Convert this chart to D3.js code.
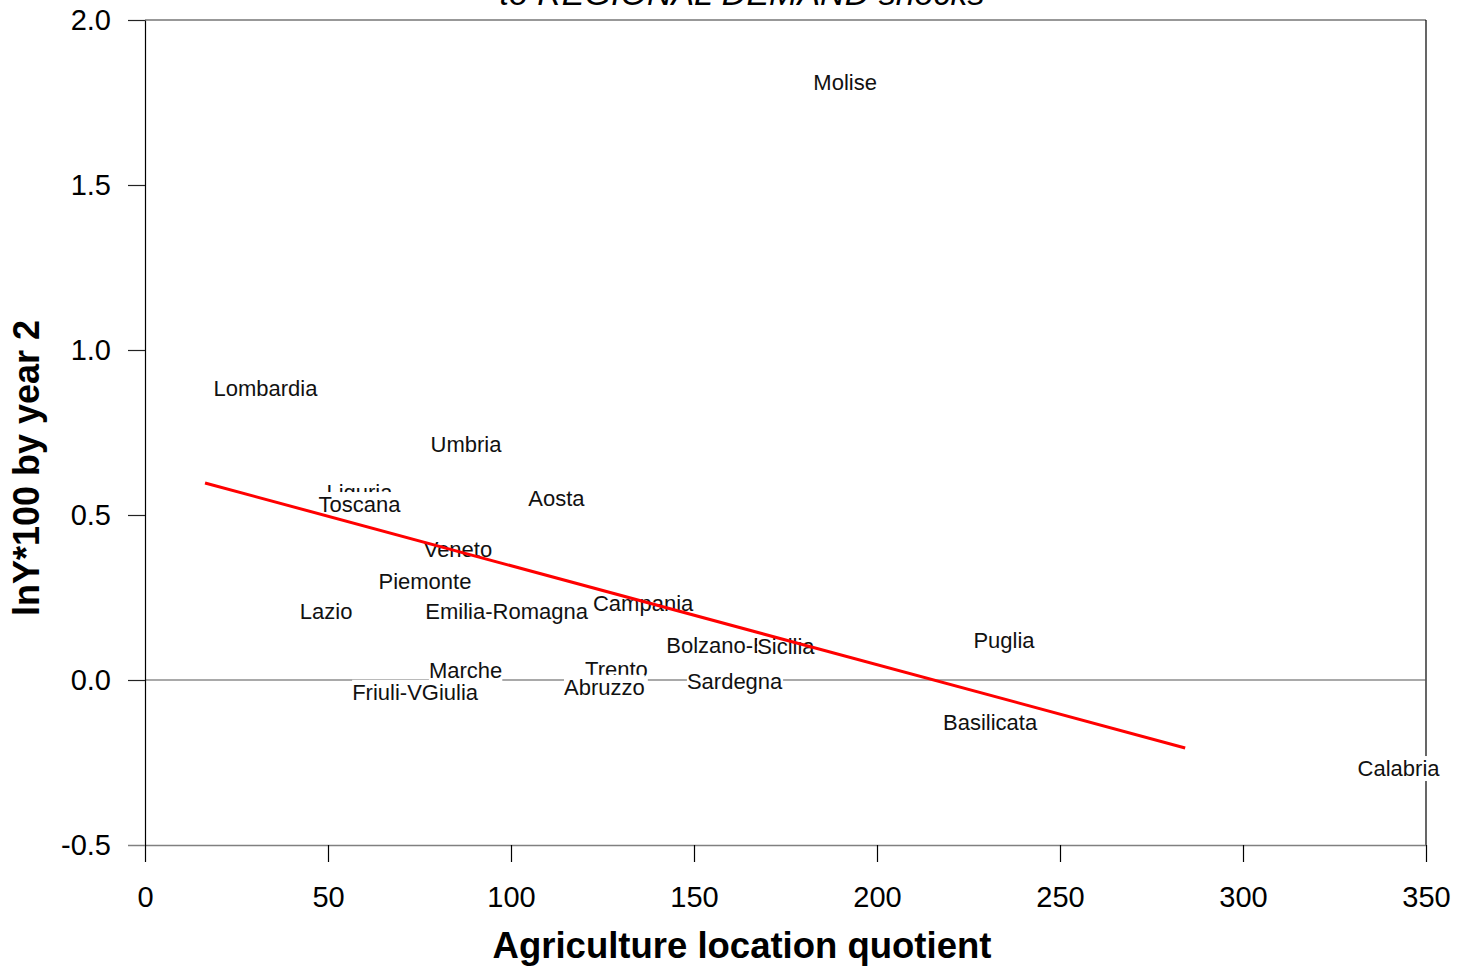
<!DOCTYPE html>
<html>
<head>
<meta charset="utf-8">
<script src="https://cdn.jsdelivr.net/npm/d3@7"></script>
<style>
  html, body { margin: 0; padding: 0; background: #fff; }
  svg { display: block; font-family: "Liberation Sans", Arial, sans-serif; }
</style>
</head>
<body>
<svg id="chart" width="1471" height="970"></svg>
<script>
// ---- data ----
const regions = ["Molise","Lombardia","Umbria","Liguria","Toscana","Aosta","Veneto","Piemonte","Lazio","Emilia-Romagna","Campania","Bolzano-Bozen","Sicilia","Puglia","Marche","Friuli-VGiulia","Trento","Abruzzo","Sardegna","Basilicata","Calabria"];
const agriLQ  = [191.3, 32.9, 87.7, 58.6, 58.6, 112.4, 85.5, 76.5, 49.5, 98.8, 136.1, 162.8, 175.1, 234.7, 87.6, 73.8, 128.8, 125.5, 161.1, 230.9, 342.5];
const lnY100  = [1.812, 0.885, 0.715, 0.570, 0.533, 0.552, 0.397, 0.300, 0.209, 0.209, 0.233, 0.106, 0.103, 0.121, 0.030, -0.036, 0.033, -0.021, -0.003, -0.127, -0.267];
const fitX = [16.4, 284.2];
const fitY = [0.597, -0.206];
const xTicks = [0, 50, 100, 150, 200, 250, 300, 350];
const yTicks = [-0.5, 0.0, 0.5, 1.0, 1.5, 2.0];
const yTickLabels = ["-0.5", "0.0", "0.5", "1.0", "1.5", "2.0"];
const titleText = "to REGIONAL DEMAND shocks";
const xTitle = "Agriculture location quotient";
const yTitle = "lnY*100 by year 2";

// ---- layout ----
const svg = d3.select("#chart");
const L = 145, R = 1426, T = 20, B = 845;
const x = d3.scaleLinear().domain([0, 350]).range([L, R]);
const y = d3.scaleLinear().domain([-0.5, 2.0]).range([B, T]);

// title (partly cut off at the top, as in the original)
svg.append("text")
  .attr("x", 742).attr("y", 5)
  .attr("text-anchor", "middle")
  .attr("font-size", 34).attr("font-style", "italic")
  .attr("fill", "#000")
  .text(titleText);

// frame top & right
svg.append("line").attr("x1", L).attr("x2", R).attr("y1", T).attr("y2", T)
  .attr("stroke", "#333").attr("stroke-width", 1.2);
svg.append("line").attr("x1", R).attr("x2", R).attr("y1", T).attr("y2", B)
  .attr("stroke", "#000").attr("stroke-width", 1.2);

// zero line
svg.append("line").attr("x1", L).attr("x2", R).attr("y1", y(0)).attr("y2", y(0))
  .attr("stroke", "#555").attr("stroke-width", 1.2);

// x axis
const gx = svg.append("g").attr("transform", `translate(0,${B})`)
  .call(d3.axisBottom(x).tickValues(xTicks).tickSize(17).tickSizeOuter(0).tickPadding(24).tickFormat(d3.format("d")));
gx.select(".domain").attr("stroke", "#808080").attr("stroke-width", 1.5);
gx.selectAll(".tick line").attr("stroke", "#000").attr("stroke-width", 1.2);
gx.selectAll(".tick text").attr("font-size", 29).attr("font-family", "Liberation Sans, Arial, sans-serif").attr("fill", "#000");

// y axis
const gy = svg.append("g").attr("transform", `translate(${L},0)`)
  .call(d3.axisLeft(y).tickValues(yTicks).tickSize(17).tickSizeOuter(0).tickPadding(17)
    .tickFormat((d, i) => yTickLabels[i]));
gy.select(".domain").attr("stroke", "#000").attr("stroke-width", 1.2);
gy.selectAll(".tick line").attr("stroke", "#222").attr("stroke-width", 1.2);
gy.selectAll(".tick text").attr("font-size", 29).attr("font-family", "Liberation Sans, Arial, sans-serif").attr("fill", "#000");
gy.selectAll(".tick").filter(d => d === -0.5).select("line").attr("stroke", "#808080").attr("stroke-width", 1.5);

// axis titles
svg.append("text")
  .attr("x", 742).attr("y", 958)
  .attr("text-anchor", "middle")
  .attr("font-size", 36.5).attr("font-weight", "bold").attr("fill", "#000")
  .text(xTitle);
svg.append("text")
  .attr("transform", "translate(39,468) rotate(-90)")
  .attr("text-anchor", "middle")
  .attr("font-size", 36).attr("font-weight", "bold").attr("fill", "#000")
  .text(yTitle);

// point labels with white background boxes
const gl = svg.append("g");
regions.forEach((name, i) => {
  const g = gl.append("g");
  const rect = g.append("rect").attr("fill", "#fff");
  const t = g.append("text")
    .attr("x", x(agriLQ[i])).attr("y", y(lnY100[i]))
    .attr("dy", "0.36em")
    .attr("text-anchor", "middle")
    .attr("font-size", 22).attr("fill", "#111")
    .text(name);
  const bb = t.node().getBBox();
  rect.attr("x", bb.x).attr("y", bb.y).attr("width", bb.width).attr("height", bb.height);
});

// regression line
const line = d3.line().x(d => x(d[0])).y(d => y(d[1]));
svg.append("path")
  .datum(fitX.map((v, i) => [v, fitY[i]]))
  .attr("d", line)
  .attr("fill", "none")
  .attr("stroke", "#ff0000").attr("stroke-width", 3);
</script>
</body>
</html>
